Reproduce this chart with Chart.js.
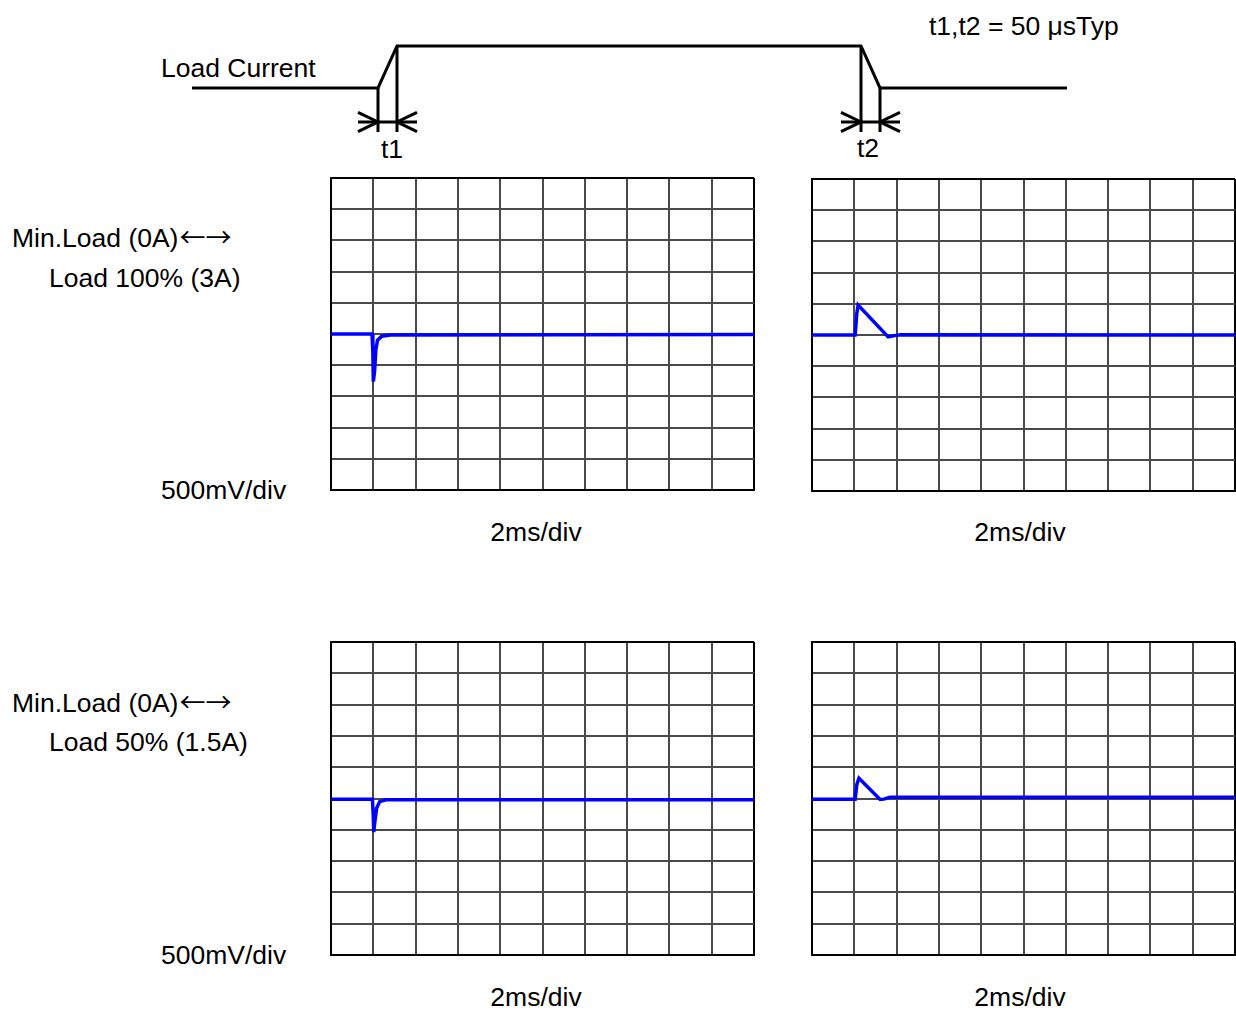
<!DOCTYPE html>
<html>
<head>
<meta charset="utf-8">
<script src="https://cdn.jsdelivr.net/npm/chart.js@4.4.1/dist/chart.umd.min.js"></script>
<style>
  html, body { margin: 0; padding: 0; background: #fff; }
  #stage { position: relative; width: 1236px; height: 1010px; overflow: hidden; background: #fff; }
  .lbl { position: absolute; font-family: "Liberation Sans", Arial, sans-serif; font-size: 26.5px; line-height: 26px; color: #000; white-space: nowrap; }
  .ctr { width: 200px; text-align: center; }
  .arr { font-family: "Noto Sans CJK JP", "DejaVu Sans", sans-serif; font-size: 26px; margin-left: 1px; line-height: 0; }
  canvas { position: absolute; }
</style>
</head>
<body>
<div id="stage">
  <div class="lbl" style="left:161px;top:55px">Load Current</div>
  <div class="lbl" style="left:929px;top:13px">t1,t2 = 50 μsTyp</div>
  <div class="lbl" style="left:381px;top:136px">t1</div>
  <div class="lbl" style="left:857px;top:135px">t2</div>

  <div class="lbl" style="left:12px;top:225px">Min.Load (0A)<span class="arr">←→</span></div>
  <div class="lbl" style="left:49px;top:265px">Load 100% (3A)</div>
  <div class="lbl" style="left:161px;top:477px">500mV/div</div>
  <div class="lbl ctr" style="left:436px;top:519px">2ms/div</div>
  <div class="lbl ctr" style="left:920px;top:519px">2ms/div</div>

  <div class="lbl" style="left:12px;top:690px">Min.Load (0A)<span class="arr">←→</span></div>
  <div class="lbl" style="left:49px;top:729px">Load 50% (1.5A)</div>
  <div class="lbl" style="left:161px;top:942px">500mV/div</div>
  <div class="lbl ctr" style="left:436px;top:984px">2ms/div</div>
  <div class="lbl ctr" style="left:920px;top:984px">2ms/div</div>
</div>
<script>
// ---------- DATA (divisions: x 0..10 = 2ms/div, y -5..5 = 500mV/div) ----------
const divCount = 10;

// Top-left: Min.Load -> Load 100% (3A), load step up
const tlX = [0, 0.97, 0.99, 1.00, 1.03, 1.06, 1.10, 1.20, 1.40, 10];
const tlY = [0, 0, -0.6, -1.52, -1.2, -0.5, -0.2, -0.07, -0.03, -0.02];

// Top-right: Load 100% -> Min.Load, load step down
const trX = [0, 1.02, 1.06, 1.09, 1.80, 1.95, 2.10, 10];
const trY = [0, 0, 0.7, 0.96, -0.06, -0.02, 0.01, 0.0];

// Bottom-left: Min.Load -> Load 50% (1.5A)
const blX = [0, 0.98, 1.00, 1.01, 1.04, 1.08, 1.15, 1.30, 10];
const blY = [-0.02, -0.02, -0.6, -1.07, -0.7, -0.3, -0.1, -0.04, -0.04];

// Bottom-right: Load 50% -> Min.Load
const brX = [0, 1.02, 1.06, 1.11, 1.61, 1.70, 1.84, 10];
const brY = [-0.02, -0.02, 0.45, 0.65, -0.03, -0.02, 0.04, 0.04];

// Load current schematic (arbitrary time units, level 0 = min load, 1 = full load)
const loadX = [0, 186, 205, 669, 688, 875];
const loadY = [0, 0, 1, 1, 0, 0];
const t1Edges = [186, 205];
const t2Edges = [669, 688];
const markerBottom = -1.05;
const arrowLevel = -0.81;
const arrowLen = 20;
const arrowSpread = 0.23;

// ---------- CHARTS ----------
function zip(xs, ys) { return xs.map((x, i) => ({ x: x, y: ys[i] })); }

function scopePanel(left, top, w, h, xs, ys) {
  const pad = 4;
  const c = document.createElement('canvas');
  c.width = w + 2 * pad; c.height = h + 2 * pad;
  c.style.left = (left - pad) + 'px'; c.style.top = (top - pad) + 'px';
  c.style.width = c.width + 'px'; c.style.height = c.height + 'px';
  document.getElementById('stage').appendChild(c);
  const edgeColor = (min, max) => (ctx) => {
    const v = ctx.tick ? ctx.tick.value : null;
    return (v === min || v === max) ? '#000000' : '#4a4a4a';
  };
  new Chart(c, {
    type: 'scatter',
    data: { datasets: [{ data: zip(xs, ys), showLine: true, borderColor: '#0000ff', borderWidth: 3.5, pointRadius: 0, tension: 0, fill: false }] },
    options: {
      responsive: false, animation: false, devicePixelRatio: 1,
      layout: { padding: pad },
      plugins: { legend: { display: false }, tooltip: { enabled: false } },
      scales: {
        x: { type: 'linear', min: 0, max: divCount, ticks: { display: false, stepSize: 1 },
             grid: { drawTicks: false, color: edgeColor(0, divCount), lineWidth: 2 },
             border: { display: true, color: '#000', width: 2 } },
        y: { type: 'linear', min: -divCount / 2, max: divCount / 2, ticks: { display: false, stepSize: 1 },
             grid: { drawTicks: false, color: edgeColor(-divCount / 2, divCount / 2), lineWidth: 2 },
             border: { display: true, color: '#000', width: 2 } }
      }
    }
  });
}

scopePanel(331, 178, 423, 312, tlX, tlY);
scopePanel(812, 179, 423, 312, trX, trY);
scopePanel(331, 642, 423, 313, blX, blY);
scopePanel(812, 642, 423, 313, brX, brY);

// Load current schematic chart
(function () {
  const pad = 4, left = 192, top = 46, w = 875, h = 86;
  const c = document.createElement('canvas');
  c.width = w + 2 * pad; c.height = h + 2 * pad;
  c.style.left = (left - pad) + 'px'; c.style.top = (top - pad) + 'px';
  c.style.width = c.width + 'px'; c.style.height = c.height + 'px';
  document.getElementById('stage').appendChild(c);

  const seg = (pts) => ({ data: pts, showLine: true, borderColor: '#000', borderWidth: 3, pointRadius: 0, tension: 0, fill: false });
  const ds = [seg(zip(loadX, loadY))];
  // extension lines down from each edge
  ds.push(seg([{ x: t1Edges[0], y: 0 }, { x: t1Edges[0], y: markerBottom }]));
  ds.push(seg([{ x: t1Edges[1], y: 1 }, { x: t1Edges[1], y: markerBottom }]));
  ds.push(seg([{ x: t2Edges[0], y: 1 }, { x: t2Edges[0], y: markerBottom }]));
  ds.push(seg([{ x: t2Edges[1], y: 0 }, { x: t2Edges[1], y: markerBottom }]));
  // dimension arrows pointing inward
  [t1Edges, t2Edges].forEach(e => {
    ds.push(seg([{ x: e[0] - arrowLen, y: arrowLevel }, { x: e[1] + arrowLen, y: arrowLevel }]));
    ds.push(seg([{ x: e[0] - arrowLen, y: arrowLevel + arrowSpread }, { x: e[0], y: arrowLevel }, { x: e[0] - arrowLen, y: arrowLevel - arrowSpread }]));
    ds.push(seg([{ x: e[1] + arrowLen, y: arrowLevel + arrowSpread }, { x: e[1], y: arrowLevel }, { x: e[1] + arrowLen, y: arrowLevel - arrowSpread }]));
  });

  new Chart(c, {
    type: 'scatter',
    data: { datasets: ds },
    options: {
      responsive: false, animation: false, devicePixelRatio: 1,
      layout: { padding: pad },
      plugins: { legend: { display: false }, tooltip: { enabled: false } },
      scales: {
        x: { type: 'linear', min: 0, max: loadX[loadX.length - 1], display: false },
        y: { type: 'linear', min: markerBottom, max: 1, display: false }
      },
      clip: false
    }
  });
})();
</script>
</body>
</html>
